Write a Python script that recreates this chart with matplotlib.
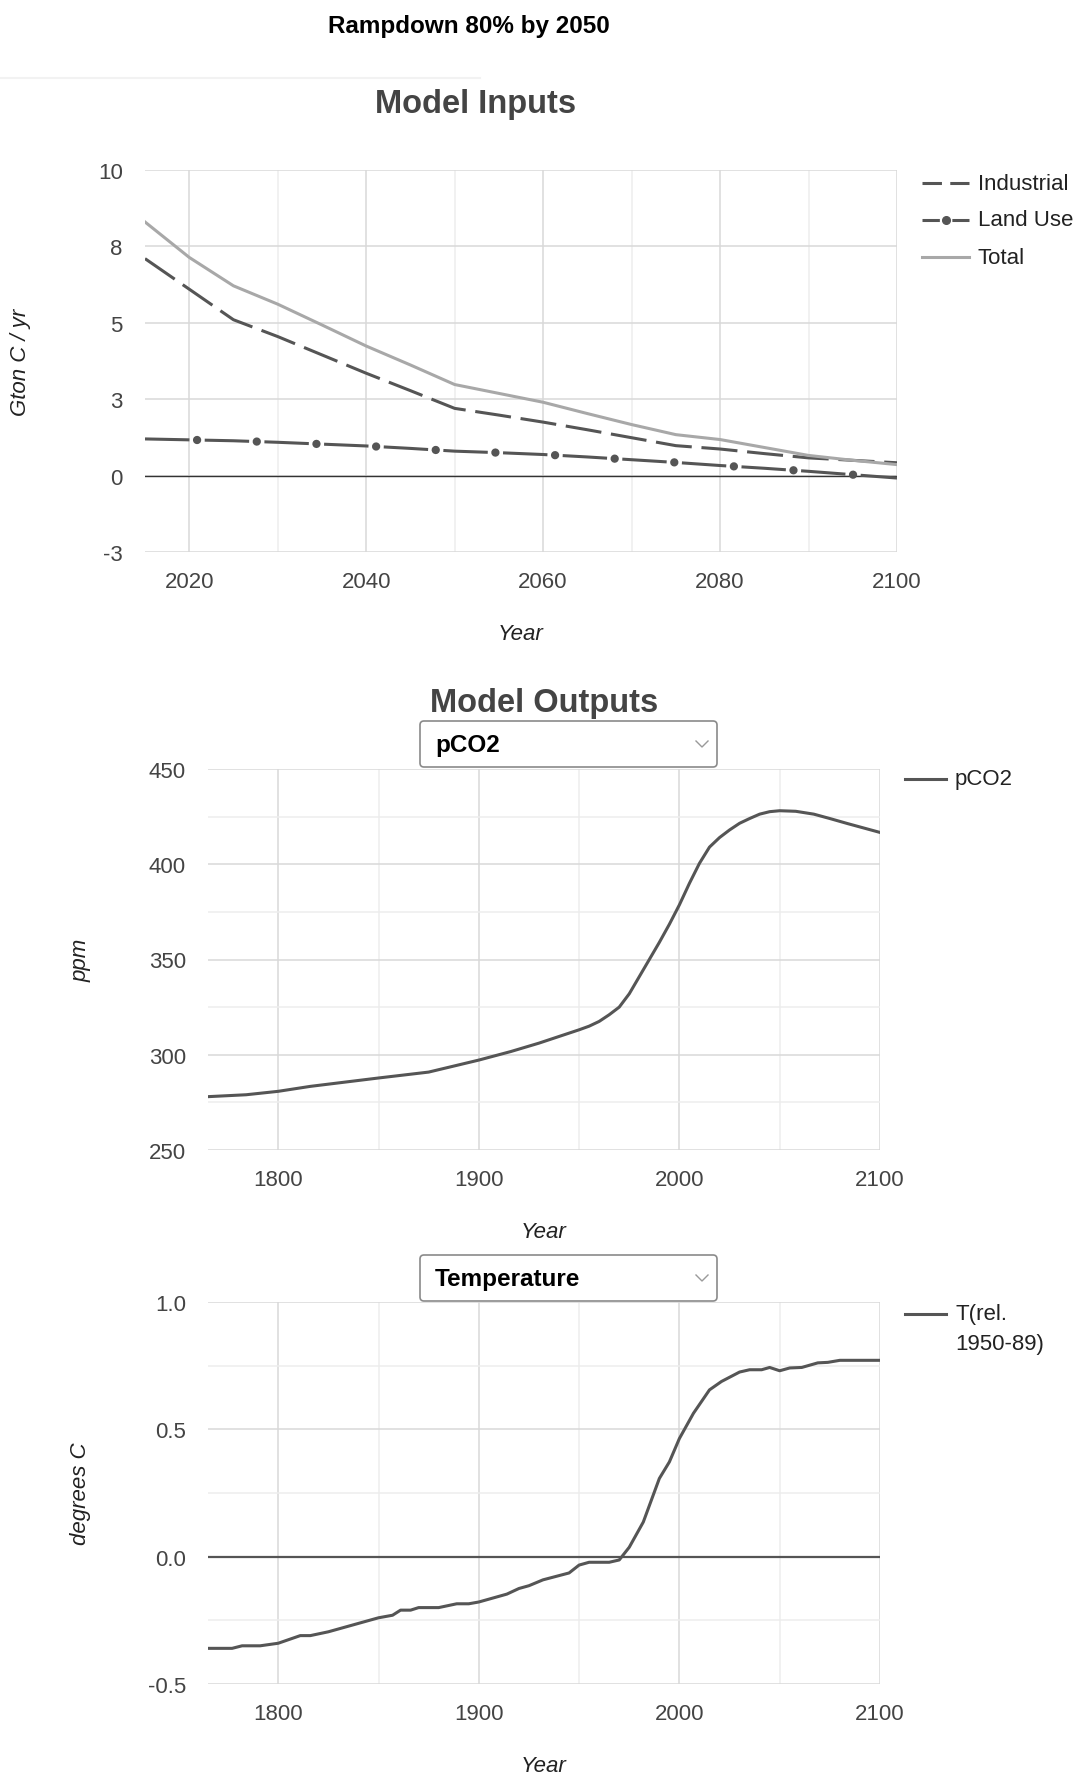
import matplotlib.pyplot as plt
from matplotlib.patches import FancyBboxPatch

plt.rcParams['font.family'] = ['Liberation Sans', 'DejaVu Sans']
plt.rcParams['lines.scale_dashes'] = False

# --- emissions scenario (model inputs) ---
input_years = [2015, 2020, 2025, 2030, 2035, 2040, 2045, 2050, 2055, 2060,
               2065, 2070, 2075, 2080, 2085, 2090, 2095, 2100]
industrial = [7.10, 6.10, 5.10, 4.55, 3.95, 3.35, 2.78, 2.20, 1.98, 1.75,
              1.50, 1.24, 0.98, 0.87, 0.72, 0.58, 0.50, 0.42]
land_use = [1.20, 1.17, 1.14, 1.09, 1.03, 0.97, 0.89, 0.80, 0.75, 0.69,
            0.61, 0.52, 0.43, 0.33, 0.24, 0.14, 0.03, -0.08]
total = [8.30, 7.14, 6.21, 5.61, 4.93, 4.24, 3.62, 2.98, 2.69, 2.40,
         2.03, 1.67, 1.34, 1.18, 0.92, 0.66, 0.50, 0.36]
input_yticks = [-2.5, 0, 2.5, 5, 7.5, 10]
input_ylabels = ['-3', '0', '3', '5', '8', '10']
input_xticks = [2020, 2040, 2060, 2080, 2100]

# --- model outputs ---
co2_years = [1765, 1784, 1800, 1816, 1850, 1875, 1900, 1916, 1930, 1950,
             1955, 1960, 1965, 1970, 1975, 1980, 1985, 1990, 1995, 2000,
             2005, 2010, 2015, 2020, 2025, 2030, 2035, 2040, 2045, 2050,
             2058, 2067, 2075, 2084, 2092, 2100]
co2_ppm = [278.0, 279.0, 280.8, 283.4, 287.8, 290.9, 297.2, 301.7, 306.1, 313.1,
           315.0, 317.5, 321.0, 325.0, 332.0, 341.0, 350.0, 359.0, 368.5, 378.7,
           390.0, 400.5, 409.0, 414.0, 418.0, 421.5, 424.0, 426.3, 427.6, 428.1,
           427.8, 426.3, 424.0, 421.3, 419.0, 416.7]

temp_years = [1765, 1777, 1782, 1791, 1800, 1811, 1816, 1825, 1850, 1857,
              1861, 1866, 1870, 1880, 1889, 1895, 1900, 1914, 1920, 1925,
              1932, 1945, 1950, 1955, 1965, 1970, 1975, 1982, 1990, 1995,
              2000, 2007, 2015, 2021, 2030, 2035, 2041, 2045, 2050, 2055,
              2061, 2069, 2074, 2080, 2100]
temp_rel = [-0.36, -0.36, -0.35, -0.35, -0.34, -0.31, -0.31, -0.295, -0.24, -0.23,
            -0.21, -0.21, -0.20, -0.20, -0.185, -0.185, -0.178, -0.147, -0.125, -0.114,
            -0.091, -0.064, -0.033, -0.022, -0.022, -0.013, 0.037, 0.136, 0.307, 0.372,
            0.464, 0.563, 0.655, 0.688, 0.725, 0.734, 0.734, 0.743, 0.730, 0.741,
            0.743, 0.761, 0.763, 0.771, 0.771]
output_xticks = [1800, 1900, 2000, 2100]
co2_yticks = [250, 300, 350, 400, 450]
temp_yticks = [-0.5, 0.0, 0.5, 1.0]

W, H = 1078, 1774
LINE = '#555555'
TOTAL = '#a8a8a8'
TICK = '#444444'
MAJOR = '#d9d9d9'
MINOR = '#ededed'

fig = plt.figure(figsize=(W / 100, H / 100), dpi=100)


def px_axes(left, top, right, bottom):
    return fig.add_axes([left / W, 1 - bottom / H, (right - left) / W, (bottom - top) / H])


def style_axes(ax, xlim, ylim, xticks, yticks, xminor, yminor):
    ax.set_xlim(*xlim)
    ax.set_ylim(*ylim)
    ax.set_xticks(xticks)
    ax.set_yticks(yticks)
    ax.set_xticks(xminor, minor=True)
    ax.set_yticks(yminor, minor=True)
    ax.grid(True, which='major', color=MAJOR, lw=1.1, zorder=0)
    ax.grid(True, which='minor', color=MINOR, lw=1.1, zorder=0)
    ax.set_axisbelow(True)
    for s in ax.spines.values():
        s.set_visible(False)
    ax.tick_params(which='both', length=0, labelsize=16, labelcolor=TICK)
    ax.tick_params(axis='x', pad=14)
    ax.tick_params(axis='y', pad=16)


def axis_titles(ax, ylabel, ylabel_x):
    ax.set_xlabel('Year', fontsize=16, style='italic', color='#222222', labelpad=22)
    ax.set_ylabel(ylabel, fontsize=16, style='italic', color='#222222', va='center')
    ax.yaxis.set_label_coords(ylabel_x, 0.5)


# --- Model Inputs chart ---
ax1 = px_axes(145, 171, 897, 553)
style_axes(ax1, (2015, 2100), (-2.5, 10), input_xticks, input_yticks,
           [2030, 2050, 2070, 2090], [])
ax1.set_yticklabels(input_ylabels)
ax1.axhline(0, color='#333333', lw=1.0, zorder=1)
ax1.plot(input_years, industrial, color=LINE, lw=2.2, linestyle=(0, (26, 7)), zorder=3)
ax1.plot(input_years, land_use, color=LINE, lw=2.2, linestyle=(0, (32, 11)), zorder=3)
ax1.plot(input_years, land_use, color=LINE, lw=6, linestyle=(5.5, (0.01, 42.99)),
         dash_capstyle='round', zorder=3)
ax1.plot(input_years, total, color=TOTAL, lw=2.2, zorder=4)
axis_titles(ax1, 'Gton C / yr', -0.166)

# --- pCO2 chart ---
ax2 = px_axes(208, 770, 880, 1151)
style_axes(ax2, (1765, 2100), (250, 450), output_xticks, co2_yticks,
           [1850, 1950, 2050], [275, 325, 375, 425])
ax2.plot(co2_years, co2_ppm, color=LINE, lw=2.2, zorder=3)
axis_titles(ax2, 'ppm', -0.189)

# --- Temperature chart ---
ax3 = px_axes(208, 1303, 880, 1685)
style_axes(ax3, (1765, 2100), (-0.5, 1.0), output_xticks, temp_yticks,
           [1850, 1950, 2050], [-0.25, 0.25, 0.75])
ax3.set_yticklabels([f'{v:.1f}' for v in temp_yticks])
ax3.axhline(0, color='#555555', lw=1.6, zorder=1)
ax3.plot(temp_years, temp_rel, color=LINE, lw=2.2, zorder=3)
axis_titles(ax3, 'degrees C', -0.189)

# --- page overlay in pixel coordinates: titles, dropdowns, legends ---
ov = fig.add_axes([0, 0, 1, 1], zorder=10)
ov.set_xlim(0, W)
ov.set_ylim(H, 0)
ov.axis('off')

ov.text(469, 26, 'Rampdown 80% by 2050', fontsize=17.5, fontweight='bold',
        color='black', ha='center', va='center')
ov.plot([0, 480], [79, 79], color='#f2f2f2', lw=1.5)
ov.text(476, 105, 'Model Inputs', fontsize=23.5, fontweight='bold',
        color='#444444', ha='center', va='center')
ov.text(544, 704, 'Model Outputs', fontsize=23.5, fontweight='bold',
        color='#444444', ha='center', va='center')


def dropdown(top, label):
    box = FancyBboxPatch((420, top), 297, 46, boxstyle='round,pad=0,rounding_size=4',
                         fc='white', ec='#8a8a8a', lw=1.2)
    ov.add_patch(box)
    ov.text(435, top + 24, label, fontsize=17.5, fontweight='bold',
            color='black', ha='left', va='center')
    ov.plot([696, 702, 708], [top + 20, top + 26, top + 20], color='#9a9a9a', lw=1.0)


dropdown(722, 'pCO2')
dropdown(1256, 'Temperature')

# legend for the inputs chart
ov.plot([922, 969], [184, 184], color=LINE, lw=2.2, linestyle=(0, (14, 6)))
ov.text(978, 184, 'Industrial', fontsize=16, color='#222222', va='center')
ov.plot([922, 969], [221, 221], color=LINE, lw=2.2, linestyle=(0, (12.5, 9)))
ov.plot([945.5], [221], marker='o', ms=5.5, color=LINE)
ov.text(978, 221, 'Land Use', fontsize=16, color='#222222', va='center')
ov.plot([922, 969], [258, 258], color=TOTAL, lw=2.2)
ov.text(978, 258, 'Total', fontsize=16, color='#222222', va='center')

# legends for the output charts
ov.plot([905, 946], [780, 780], color=LINE, lw=2.2)
ov.text(955, 780, 'pCO2', fontsize=16, color='#222222', va='center')
ov.plot([905, 946], [1315, 1315], color=LINE, lw=2.2)
ov.text(955, 1315, 'T(rel.', fontsize=16, color='#222222', va='center')
ov.text(955, 1345, '1950-89)', fontsize=16, color='#222222', va='center')

fig.savefig('out.png', dpi=100, facecolor='white')
